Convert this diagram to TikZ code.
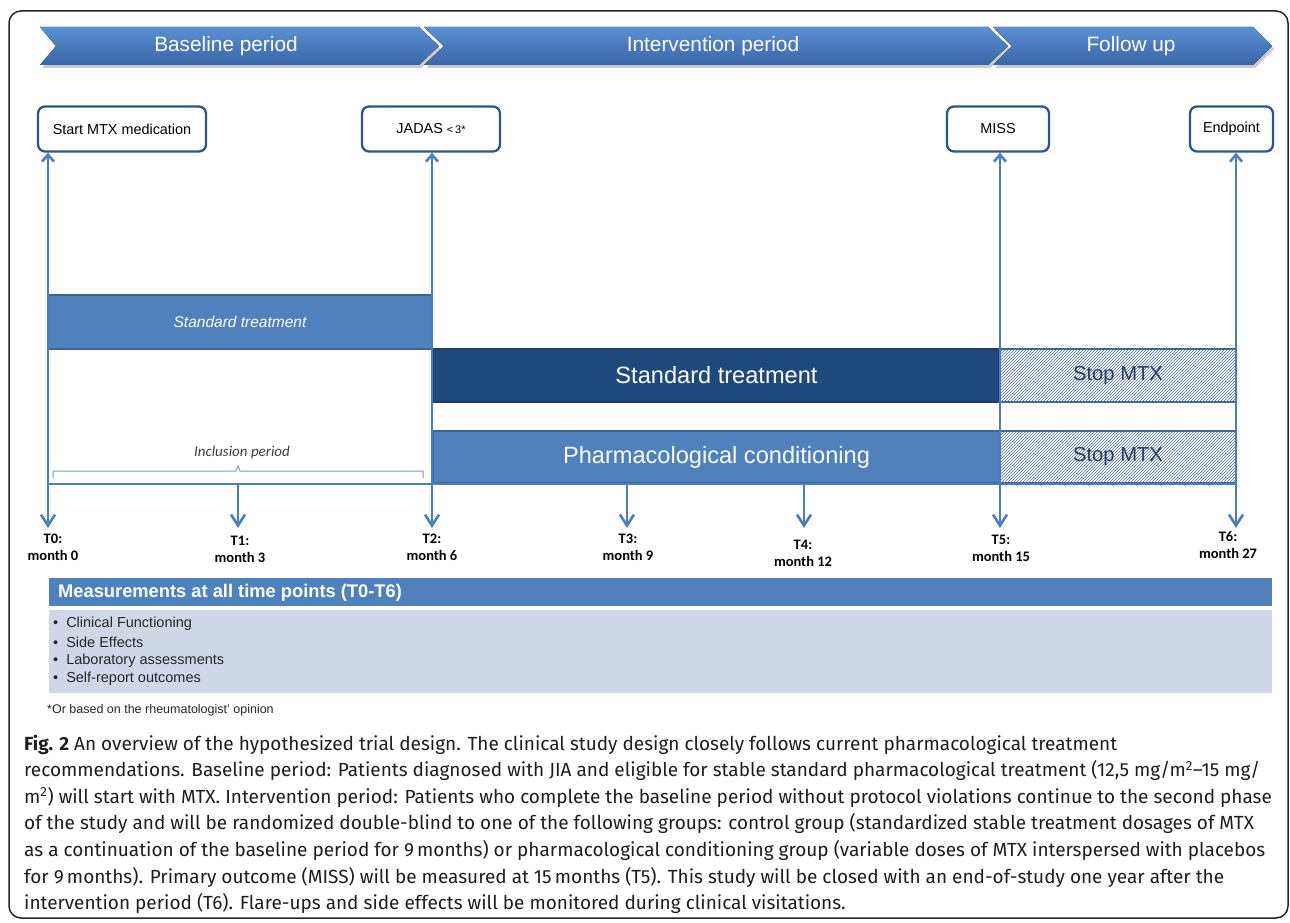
\documentclass[tikz,border=0pt]{standalone}
\usepackage{fontspec}
\setmainfont{Liberation Sans}
\newfontfamily\carl{Carlito}
\newfontfamily\capfont{Fira Sans}
\usetikzlibrary{arrows.meta,patterns}
\definecolor{bl}{RGB}{79,129,189}
\definecolor{blline}{RGB}{74,126,193}
\definecolor{boxb}{RGB}{47,85,135}
\definecolor{bord}{RGB}{60,100,155}
\definecolor{navy}{RGB}{31,73,125}
\definecolor{navyb}{RGB}{35,62,105}
\definecolor{lightbody}{RGB}{208,216,232}
\definecolor{bantop}{RGB}{90,144,210}
\definecolor{banbot}{RGB}{56,102,166}
\definecolor{stoptext}{RGB}{38,60,100}
\definecolor{hatchc}{RGB}{80,108,155}
\definecolor{bracec}{RGB}{120,155,205}
\definecolor{captxt}{RGB}{30,30,30}
\begin{document}
\begin{tikzpicture}[x=1pt,y=-1pt,
  topbox/.style={draw=boxb, line width=2.3pt, rounded corners=7pt, fill=white,
    minimum height=45pt, inner sep=0pt, font=\fontsize{14.4}{17}\selectfont},
  barbox/.style={line width=1.5pt, inner sep=0pt},
  vline/.style={draw=blline, line width=2.6pt},
  uptip/.tip={Straight Barb[length=7pt,width=12pt]},
  dntip/.tip={Straight Barb[length=11pt,width=14pt]},
  tlab/.style={font={\carl\bfseries\fontsize{14.5}{17}\selectfont}, align=center, inner sep=0pt},
  bantext/.style={text=white, font=\fontsize{20.8}{25}\selectfont, inner sep=0pt},
  bullet/.style={anchor=west, inner sep=0pt, font=\fontsize{14.5}{17}\selectfont, text=black!85},
  capline/.style={anchor=base west, inner sep=0pt, text=captxt, font={\capfont\fontsize{19}{22}\selectfont}}
]
\useasboundingbox (0,0) rectangle (1290,923);
\fill[white] (0,0) rectangle (1290,923);
% outer frame
\draw[line width=1.5pt, black!85, rounded corners=12pt] (9,11) rectangle (1288,918);

% banner shadows
\fill[black!20] (42,30) -- (421,30) -- (441,49) -- (421,68) -- (42,68) -- (58,49) -- cycle;
\fill[black!20] (426,30) -- (990,30) -- (1010,49) -- (990,68) -- (426,68) -- (446,49) -- cycle;
\fill[black!20] (995,30) -- (1255,30) -- (1274,49) -- (1255,68) -- (995,68) -- (1014,49) -- cycle;
% banner chevrons
\fill[top color=bantop, bottom color=banbot] (40,27) -- (419,27) -- (439,46) -- (419,65) -- (40,65) -- (56,46) -- cycle;
\fill[top color=bantop, bottom color=banbot] (424,27) -- (988,27) -- (1008,46) -- (988,65) -- (424,65) -- (444,46) -- cycle;
\fill[top color=bantop, bottom color=banbot] (993,27) -- (1253,27) -- (1272,46) -- (1253,65) -- (993,65) -- (1012,46) -- cycle;
\node[bantext] (ban1) at (226,46) {Baseline period};
\node[bantext] (ban2) at (713,46) {Intervention period};
\node[bantext] (ban3) at (1131,46) {Follow up};

% top boxes
\node[topbox, minimum width=168pt] (b0) at (122,129) {Start MTX\;medication};
\node[topbox, minimum width=138pt] (b2) at (431,129) {JADAS {\fontsize{11}{13}\selectfont<\,3*}};
\node[topbox, minimum width=102pt] (b5) at (998,129) {MISS};
\node[topbox, minimum width=83pt] (b6) at (1231.5,129) {Endpoint};

% bars
\node[barbox, fill=bl, draw=bord, minimum width=384pt, minimum height=54pt,
  text=white, font=\fontsize{15.5}{18}\selectfont\itshape] (stdA) at (240,322) {Standard treatment};
\node[barbox, fill=navy, draw=navyb, minimum width=567pt, minimum height=53pt,
  text=white, font=\fontsize{23.6}{28}\selectfont] (stdB) at (716.5,375.5) {Standard treatment};
\node[barbox, fill=bl, draw=bord, minimum width=567pt, minimum height=52pt,
  text=white, font=\fontsize{23.6}{28}\selectfont] (pharm) at (716.5,457) {Pharmacological conditioning};
\node[barbox, fill=white, draw=bord, minimum width=236pt, minimum height=53pt,
  postaction={pattern=north east lines, pattern color=hatchc},
  text=stoptext, font=\fontsize{20.2}{24}\selectfont] (stop1) at (1118,375.5) {Stop MTX};
\node[barbox, fill=white, draw=bord, minimum width=236pt, minimum height=52pt,
  postaction={pattern=north east lines, pattern color=hatchc},
  text=stoptext, font=\fontsize{20.2}{24}\selectfont] (stop2) at (1118,457) {Stop MTX};

% inclusion period
\node[inner sep=0pt, text=black!75, font={\carl\itshape\fontsize{15}{18}\selectfont}] (incl) at (242,452) {Inclusion period};
\draw[bracec, line width=1pt] (53,478) -- (53,471) -- (236,471) -- (238,466) -- (240,471) -- (423,471) -- (423,478);

% time coordinates
\coordinate (h0) at (48,484);
\coordinate (h1) at (238,484);
\coordinate (h3) at (627,484);
\coordinate (h4) at (804,484);
\coordinate (h6) at (1236,484);
\coordinate (e0) at (48,528);
\coordinate (e1) at (238,528);
\coordinate (e2) at (432,528);
\coordinate (e3) at (627,528);
\coordinate (e4) at (804,528);
\coordinate (e5) at (1000,528);
\coordinate (e6) at (1236,528);

% baseline
\draw[vline] (h0) -- (h6);
% long vertical connectors
\draw[vline, uptip-dntip] (b0.south -| e0) -- (e0);
\draw[vline, uptip-dntip] (b2.south -| e2) -- (e2);
\draw[vline, uptip-dntip] (b5.south -| e5) -- (e5);
\draw[vline, uptip-dntip] (b6.south -| e6) -- (e6);
% short arrows
\draw[vline, -dntip] (h1) -- (e1);
\draw[vline, -dntip] (h3) -- (e3);
\draw[vline, -dntip] (h4) -- (e4);

% time labels
\node[tlab] (l0) at (53,547.5) {T0:\\month 0};
\node[tlab] (l1) at (240,549.5) {T1:\\month 3};
\node[tlab] (l2) at (432,547.5) {T2:\\month 6};
\node[tlab] (l3) at (628,547) {T3:\\month 9};
\node[tlab] (l4) at (803,553.5) {T4:\\month 12};
\node[tlab] (l5) at (1001,548.5) {T5:\\month 15};
\node[tlab] (l6) at (1228,545) {T6:\\month 27};

% measurements
\node[fill=bl, minimum width=1223pt, minimum height=28pt, inner sep=0pt, anchor=north west] (mhead) at (49,578) {};
\node[anchor=west, inner sep=0pt, text=white, font={\bfseries\fontsize{18.3}{21}\selectfont}] (mtitle) at (58,592.5) {Measurements at all time points (T0-T6)};
\node[fill=lightbody, minimum width=1223pt, minimum height=83.5pt, inner sep=0pt, anchor=north west] (mbody) at (49,609.5) {};
\node[bullet] (m1) at (53,624) {\textbullet\hspace{8pt}Clinical Functioning};
\node[bullet] (m2) at (53,642) {\textbullet\hspace{8pt}Side Effects};
\node[bullet] (m3) at (53,661) {\textbullet\hspace{8pt}Laboratory assessments};
\node[bullet] (m4) at (53,679) {\textbullet\hspace{8pt}Self-report outcomes};

% footnote
\node[anchor=west, inner sep=0pt, text=black!85, font=\fontsize{12.5}{15}\selectfont] (foot) at (47,710) {*Or based on the rheumatologist’ opinion};

% caption
\node[capline] (c1) at (24,750) {{\bfseries Fig. 2} An overview of the hypothesized trial design. The clinical study design closely follows current pharmacological treatment};
\node[capline] (c2) at (24,776.6) {recommendations. Baseline period: Patients diagnosed with JIA and eligible for stable standard pharmacological treatment (12,5 mg/m\textsuperscript{2}–15 mg/};
\node[capline] (c3) at (24,803.2) {m\textsuperscript{2}) will start with MTX. Intervention period: Patients who complete the baseline period without protocol violations continue to the second phase};
\node[capline] (c4) at (24,829.8) {of the study and will be randomized double-blind to one of the following groups: control group (standardized stable treatment dosages of MTX};
\node[capline] (c5) at (24,856.4) {as a continuation of the baseline period for 9\,months) or pharmacological conditioning group (variable doses of MTX interspersed with placebos};
\node[capline] (c6) at (24,883) {for 9\,months). Primary outcome (MISS) will be measured at 15\,months (T5). This study will be closed with an end-of-study one year after the};
\node[capline] (c7) at (24,909.6) {intervention period (T6). Flare-ups and side effects will be monitored during clinical visitations.};
\end{tikzpicture}
\end{document}
